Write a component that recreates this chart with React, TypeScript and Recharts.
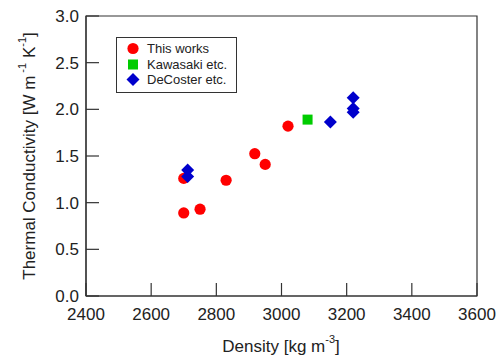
import React from 'react';
import {
  ScatterChart, Scatter, XAxis, YAxis, ReferenceArea, Customized,
} from 'recharts';

// This works
const thisWorksDensity = [2700, 2700, 2750, 2830, 2918, 2950, 3020];
const thisWorksK = [1.26, 0.89, 0.93, 1.24, 1.525, 1.41, 1.82];

// Kawasaki etc.
const kawasakiDensity = [3080];
const kawasakiK = [1.89];

// DeCoster etc.
const decosterDensity = [2712, 2712, 3150, 3220, 3220, 3220];
const decosterK = [1.35, 1.28, 1.865, 2.125, 2.01, 1.97];

const xTicks = [2400, 2600, 2800, 3000, 3200, 3400, 3600];
const yTicks = [0, 0.5, 1, 1.5, 2, 2.5, 3];

const toPoints = (xs: number[], ys: number[]) => xs.map((x, i) => ({ x, y: ys[i] }));

const series = [
  { name: 'This works', color: '#ff0000', shape: 'circle', data: toPoints(thisWorksDensity, thisWorksK) },
  { name: 'Kawasaki etc.', color: '#00cc00', shape: 'square', data: toPoints(kawasakiDensity, kawasakiK) },
  { name: 'DeCoster etc.', color: '#0000cc', shape: 'diamond', data: toPoints(decosterDensity, decosterK) },
];

const FONT = '"Liberation Sans", Arial, sans-serif';
const INK = '#222';
const TICK_LEN = 13;

function Marker({ shape, cx, cy, color }: { shape: string; cx: number; cy: number; color: string }) {
  if (shape === 'square') {
    return <rect x={cx - 5} y={cy - 5} width={10} height={10} fill={color} />;
  }
  if (shape === 'diamond') {
    const r = 6.5;
    return <polygon points={`${cx},${cy - r} ${cx + r},${cy} ${cx},${cy + r} ${cx - r},${cy}`} fill={color} />;
  }
  return <circle cx={cx} cy={cy} r={5.6} fill={color} />;
}

const XTick = (props: any) => {
  const { x, y, payload } = props;
  return (
    <g>
      <line x1={x} y1={y} x2={x} y2={y - TICK_LEN} stroke="#333" strokeWidth={1.2} />
      <text x={x} y={y + 24} textAnchor="middle" fontSize={17} fontFamily={FONT} fill={INK}>
        {payload.value}
      </text>
    </g>
  );
};

const YTick = (props: any) => {
  const { x, y, payload } = props;
  return (
    <g>
      <line x1={x} y1={y} x2={x + TICK_LEN} y2={y} stroke="#333" strokeWidth={1.2} />
      <text x={x - 7} y={y + 6} textAnchor="end" fontSize={17} fontFamily={FONT} fill={INK}>
        {Number(payload.value).toFixed(1)}
      </text>
    </g>
  );
};

const LegendBox = () => (
  <div
    style={{
      position: 'absolute',
      left: 116,
      top: 37,
      border: '1.5px solid #333',
      background: '#fff',
      width: 119,
      padding: '3px 0 4px 0',
      fontFamily: FONT,
      fontSize: 13,
      color: INK,
      lineHeight: '15.5px',
    }}
  >
    {series.map((s) => (
      <div key={s.name} style={{ display: 'flex', alignItems: 'center' }}>
        <svg width={30} height={15}>
          <Marker shape={s.shape} cx={16} cy={7.5} color={s.color} />
        </svg>
        <span>{s.name}</span>
      </div>
    ))}
  </div>
);

const AxisTitles = () => (
  <g fontFamily={FONT} fill={INK}>
    <text x={281} y={352} textAnchor="middle" fontSize={17}>
      Density [kg m
      <tspan fontSize={11} dy={-9}>-3</tspan>
      <tspan dy={9}>]</tspan>
    </text>
    <text transform="translate(35,156) rotate(-90)" textAnchor="middle" fontSize={17}>
      Thermal Conductivity [W m
      <tspan fontSize={11} dy={-9}> -1</tspan>
      <tspan dy={9}> K</tspan>
      <tspan fontSize={11} dy={-9}>-1</tspan>
      <tspan dy={9}>]</tspan>
    </text>
  </g>
);

export default function App() {
  return (
    <div style={{ position: 'absolute', left: 0, top: 0, width: 502, height: 356, background: '#fff' }}>
      <ScatterChart width={502} height={356} margin={{ top: 16, right: 25, bottom: 0, left: 0 }}>
        <XAxis
          type="number"
          dataKey="x"
          domain={[2400, 3600]}
          ticks={xTicks}
          height={60}
          tickSize={0}
          tickMargin={0}
          tickLine={false}
          tick={<XTick />}
          axisLine={{ stroke: '#333', strokeWidth: 1.2 }}
          allowDataOverflow
        />
        <YAxis
          type="number"
          dataKey="y"
          domain={[0, 3]}
          ticks={yTicks}
          width={86}
          tickSize={0}
          tickMargin={0}
          tickLine={false}
          tick={<YTick />}
          axisLine={{ stroke: '#333', strokeWidth: 1.2 }}
          allowDataOverflow
        />
        <ReferenceArea x1={2400} x2={3600} y1={0} y2={3} fill="none" stroke="#333" strokeWidth={1.2} />
        {series.map((s) => (
          <Scatter
            key={s.name}
            name={s.name}
            data={s.data}
            fill={s.color}
            isAnimationActive={false}
            shape={(p: any) => <Marker shape={s.shape} cx={p.cx} cy={p.cy} color={s.color} />}
          />
        ))}
        <Customized component={AxisTitles} />
      </ScatterChart>
      <LegendBox />
    </div>
  );
}
